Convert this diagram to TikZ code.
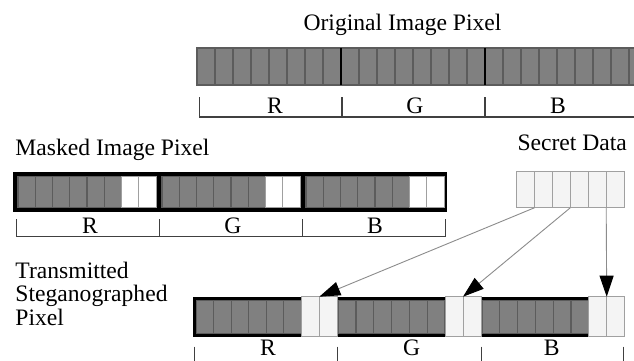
\documentclass[tikz,border=0pt]{standalone}
\usepackage{fontspec}
\setmainfont{Liberation Serif}
\usetikzlibrary{arrows.meta}
\definecolor{cellgray}{HTML}{808080}
\definecolor{celledge}{HTML}{5C5C5C}
\definecolor{lightcell}{HTML}{F4F4F4}
\definecolor{lightedge}{HTML}{A0A0A0}
\definecolor{arrowgray}{HTML}{8C8C8C}
\definecolor{rulegray}{HTML}{404040}
\begin{document}
\begin{tikzpicture}[x=1pt,y=-1pt,
  lbl/.style={font=\fontsize{23.6}{23.4}\selectfont, inner sep=0pt, outer sep=0pt},
  gcell/.style={fill=cellgray, draw=celledge, line width=1.2pt},
  wcell/.style={fill=white, draw=lightedge, line width=1pt},
  boxcell/.style={rectangle, fill=lightcell, draw=lightedge, line width=1pt,
    inner sep=0pt, outer sep=0pt, anchor=north west},
  ruler/.style={draw=rulegray, line width=1.2pt},
  link/.style={draw=arrowgray, line width=0.9pt,
    -{Triangle[length=21pt,width=14pt,color=black]}}
]
\useasboundingbox[fill=white] (0,0) rectangle (634,361);

% ---------- Original image pixel ----------
\node[lbl, anchor=base] (ttlorig) at (402.5,31) {Original Image Pixel};
\foreach \i in {0,...,24}{
  \draw[gcell] (197+\i*18,48) rectangle ++(18,37);
}
\draw[black, line width=1.6pt] (341,48) -- (341,85);
\draw[black, line width=1.6pt] (485,48) -- (485,85);
\draw[ruler] (199.7,97) -- (199.7,117) -- (634,117);
\draw[ruler] (342,97) -- (342,117);
\draw[ruler] (485,97) -- (485,117);
\node[lbl, anchor=base] (oR) at (275,113.3) {R};
\node[lbl, anchor=base] (oG) at (415,113.3) {G};
\node[lbl, anchor=base] (oB) at (558,113.3) {B};

% ---------- Masked image pixel ----------
\node[lbl, anchor=base west] (ttlmask) at (15.5,155) {Masked Image Pixel};
\fill[black] (13,171.5) rectangle (447,212);
\foreach \g in {0,1,2}{
  \foreach \c in {0,...,5}{
    \draw[gcell] (18+\g*144+\c*17.25,176.6) rectangle ++(17.25,30.8);
  }
  \foreach \c in {6,7}{
    \draw[wcell] (18+\g*144+\c*17.25,176.6) rectangle ++(17.25,30.8);
  }
}
\draw[ruler] (16.7,219.3) -- (16.7,236.7) -- (445.7,236.7) -- (445.7,219.3);
\draw[ruler] (159.3,219.3) -- (159.3,236.7);
\draw[ruler] (302.7,219.3) -- (302.7,236.7);
\node[lbl, anchor=base] (mR) at (90,233.3) {R};
\node[lbl, anchor=base] (mG) at (233,233.3) {G};
\node[lbl, anchor=base] (mB) at (375,233.3) {B};

% ---------- Secret data ----------
\node[lbl, anchor=base west] (ttlsecret) at (517.5,150.7) {Secret Data};
\foreach \i in {1,...,6}{
  \node[boxcell, minimum width=17.9pt, minimum height=36pt]
    (sd\i) at (516.7+\i*17.9-17.9,171.7) {};
}

% ---------- Transmitted steganographed pixel ----------
\node[lbl, anchor=base west, align=left] (ttltrans) at (15.5,325)
  {Transmitted\\Steganographed\\Pixel};
\fill[black] (193,296.7) rectangle (588.7,336.7);
\foreach \g/\off in {0/3.3,1/1.5,2/1.5}{
  \pgfmathsetmacro{\xs}{193+\g*143.7+\off}
  \pgfmathsetmacro{\cw}{(108.3-\off)/6}
  \foreach \c in {0,...,5}{
    \draw[gcell] (\xs+\c*\cw,300.7) rectangle ++(\cw,32.6);
  }
}
\foreach \g in {0,1,2}{
  \node[boxcell, minimum width=18pt, minimum height=40pt]
    (tw\g a) at (193+\g*143.7+108.3,296.7) {};
  \node[boxcell, minimum width=18pt, minimum height=40pt]
    (tw\g b) at (193+\g*143.7+126.3,296.7) {};
}
\draw[ruler] (194.7,346.7) -- (194.7,361);
\draw[ruler] (337.7,346.7) -- (337.7,361);
\draw[ruler] (481.7,346.7) -- (481.7,361);
\draw[ruler] (623.3,346.7) -- (623.3,361);
\node[lbl, anchor=base] (tR) at (268,355.5) {R};
\node[lbl, anchor=base] (tG) at (411.7,355.5) {G};
\node[lbl, anchor=base] (tB) at (551.7,355.5) {B};

% ---------- Arrows ----------
\draw[link] (sd1.south east) -- (tw0a.north east);
\draw[link] (sd3.south east) -- (tw1a.north east);
\draw[link] (sd5.south east) -- (tw2a.north east);
\end{tikzpicture}
\end{document}
